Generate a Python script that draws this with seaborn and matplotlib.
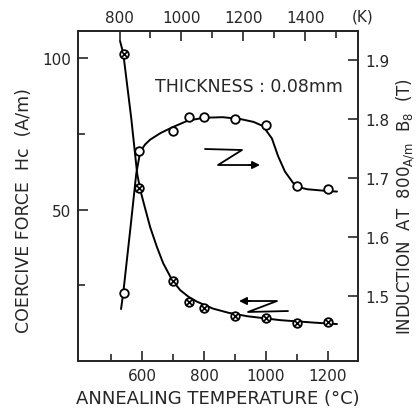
import numpy as np
import pandas as pd
import matplotlib
matplotlib.use("Agg")
import matplotlib.pyplot as plt
import seaborn as sns

# ---- data ----
temp_hc = [540, 590, 700, 750, 800, 900, 1000, 1100, 1200]          # deg C
hc_vals = [101.5, 57.0, 26.5, 19.5, 17.5, 14.9, 14.2, 12.4, 12.8]   # A/m

temp_b = [540, 590, 700, 750, 800, 900, 1000, 1100, 1200]           # deg C
b_vals = [1.505, 1.745, 1.780, 1.803, 1.803, 1.800, 1.790, 1.686, 1.682]  # T

# hand-drawn smooth curves
curve_hc_t = [529, 539, 565, 584, 594, 610, 626, 648, 668, 697, 723, 750, 777, 829, 880, 939, 1045, 1152, 1229]
curve_hc_v = [105.6, 101.7, 80.1, 61.9, 56.5, 50.3, 44.2, 37.6, 32.3, 26.7, 23.4, 21.2, 19.6, 17.3, 15.9,
              14.8, 13.5, 12.7, 12.2]

curve_b_t = [532, 539, 562, 581, 594, 610, 626, 659, 698, 747, 798, 860, 916, 960, 990, 1019, 1039, 1061,
             1087, 1110, 1132, 1197, 1229]
curve_b_v = [1.478, 1.505, 1.614, 1.707, 1.745, 1.757, 1.765, 1.776, 1.786, 1.797, 1.802, 1.803, 1.800,
             1.795, 1.788, 1.767, 1.737, 1.711, 1.692, 1.684, 1.681, 1.678, 1.677]

x_major = [600, 800, 1000, 1200]
x_minor = [500, 700, 900, 1100]
k_major = [800, 1000, 1200, 1400]
k_minor = [900, 1100, 1300, 1500]
hc_ticks = [50, 100]
hc_minor = [25, 75]
b_ticks = [1.5, 1.6, 1.7, 1.8, 1.9]

sns.set_style("ticks")
plt.rcParams['font.family'] = ['DejaVu Sans']

fig = plt.figure(figsize=(4.16, 4.14), dpi=100)
ax = fig.add_axes([0.1875, 0.1256, 0.6731, 0.7971])
ax2 = ax.twinx()

df_hc = pd.DataFrame({"T": temp_hc, "Hc": hc_vals})
df_b = pd.DataFrame({"T": temp_b, "B": b_vals})
df_chc = pd.DataFrame({"T": curve_hc_t, "Hc": curve_hc_v})
df_cb = pd.DataFrame({"T": curve_b_t, "B": curve_b_v})

lw = 1.4
sns.lineplot(data=df_chc, x="T", y="Hc", ax=ax, color="black", lw=lw, sort=False)
sns.scatterplot(data=df_hc, x="T", y="Hc", ax=ax, s=38, marker="o",
                facecolor="white", edgecolor="black", linewidth=1.3, zorder=5)
sns.scatterplot(data=df_hc, x="T", y="Hc", ax=ax, s=22, marker="x",
                color="black", linewidth=1.2, zorder=6)

sns.lineplot(data=df_cb, x="T", y="B", ax=ax2, color="black", lw=lw, sort=False)
sns.scatterplot(data=df_b, x="T", y="B", ax=ax2, s=38, marker="o",
                facecolor="white", edgecolor="black", linewidth=1.3, zorder=5)

ax.set_xlim(393, 1297)
ax.set_ylim(0, 109)
ax2.set_ylim(1.390, 1.949)

fs = 11
ax.set_xticks(x_major)
ax.set_xticks(x_minor, minor=True)
ax.set_yticks(hc_ticks)
ax.set_yticks(hc_minor, minor=True)
ax.set_yticklabels([str(v) for v in hc_ticks], fontsize=fs)
ax.set_xticklabels([str(v) for v in x_major], fontsize=fs)
ax2.set_yticks(b_ticks)
ax2.set_yticklabels([f"{v:.1f}" for v in b_ticks], fontsize=fs)

for a in (ax, ax2):
    for s in a.spines.values():
        s.set_linewidth(1.3)
        s.set_visible(True)
ax.tick_params(which="both", direction="in", width=1.2, pad=5)
ax.tick_params(which="major", length=7)
ax.tick_params(which="minor", length=5)
ax2.tick_params(which="both", direction="in", width=1.2, length=7, pad=5)

# top kelvin axis
top = ax.secondary_xaxis("top", functions=(lambda c: c + 273.0, lambda k: k - 273.0))
top.set_xticks(k_major)
top.set_xticks(k_minor, minor=True)
top.set_xticklabels([str(v) for v in k_major], fontsize=fs)
top.tick_params(which="both", direction="in", width=1.2, pad=4)
top.tick_params(which="major", length=7)
top.tick_params(which="minor", length=5)
top.spines["top"].set_linewidth(1.3)
ax.text(1.015, 1.045, "(K)", transform=ax.transAxes, fontsize=fs, ha="center", va="center")

ax.set_xlabel("ANNEALING TEMPERATURE (°C)", fontsize=13, labelpad=4)
ax.set_ylabel("COERCIVE FORCE  Hc  (A/m)", fontsize=12.5)
ax.yaxis.set_label_coords(-0.16, 0.46)
ax2.set_ylabel(r"INDUCTION  AT  800$_{\mathrm{A/m}}$  B$_8$  (T)", fontsize=12)
ax2.yaxis.set_label_coords(1.13, 0.47)

ax.text(0.275, 0.833, "THICKNESS : 0.08mm", transform=ax.transAxes, fontsize=12.5,
        ha="left", va="center")

# Z-shaped direction arrows
tr = ax.transAxes
ax.plot([0.4536, 0.5857, 0.50, 0.62], [0.6424, 0.6394, 0.5939, 0.5939],
        color="black", lw=1.3, transform=tr)
ax.annotate("", xy=(0.66, 0.5939), xytext=(0.60, 0.5939), xycoords=tr, textcoords=tr,
            arrowprops=dict(arrowstyle="-|>", color="black", lw=1.3, mutation_scale=11))
ax.plot([0.60, 0.7107, 0.6071, 0.75], [0.1818, 0.1818, 0.1485, 0.1515],
        color="black", lw=1.3, transform=tr)
ax.annotate("", xy=(0.565, 0.1818), xytext=(0.625, 0.1818), xycoords=tr, textcoords=tr,
            arrowprops=dict(arrowstyle="-|>", color="black", lw=1.3, mutation_scale=11))

fig.savefig("out.png", dpi=100)
